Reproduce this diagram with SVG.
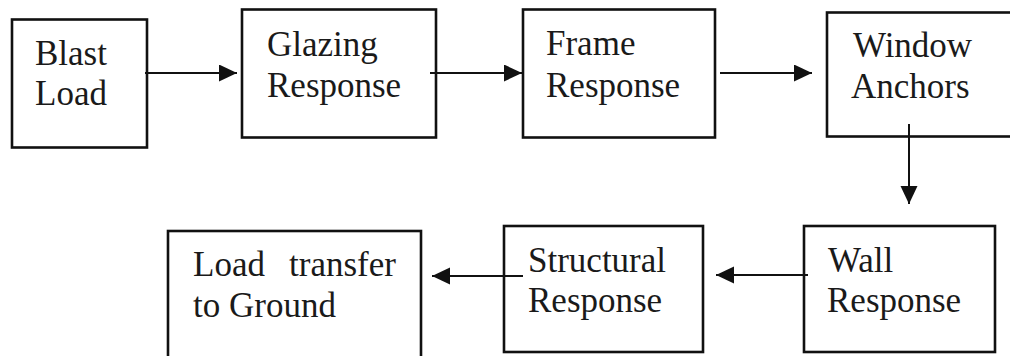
<svg xmlns="http://www.w3.org/2000/svg" width="1010" height="356" viewBox="0 0 1010 356">
  <style>
    .box { fill: #ffffff; stroke: #111111; stroke-width: 2.6; }
    .lbl { font-family: "Liberation Serif", "Times New Roman", serif; font-size: 35px; fill: #1a1a1a; }
    .link { stroke: #111111; stroke-width: 2; fill: none; marker-end: url(#head); }
  </style>
  <defs>
    <marker id="head" markerUnits="userSpaceOnUse" markerWidth="20" markerHeight="18" refX="18" refY="8.5" orient="auto">
      <path d="M0,0 L18,8.5 L0,17 Z" fill="#111111"/>
    </marker>
  </defs>
  <rect width="1010" height="356" fill="#ffffff"/>

  <g id="blast-load">
    <rect class="box" x="12" y="19.5" width="135" height="128"/>
    <text class="lbl" x="35" y="65">Blast</text>
    <text class="lbl" x="35" y="105">Load</text>
  </g>

  <g id="glazing-response">
    <rect class="box" x="242" y="9.5" width="194" height="128"/>
    <text class="lbl" x="267" y="56">Glazing</text>
    <text class="lbl" x="267" y="97">Response</text>
  </g>

  <g id="frame-response">
    <rect class="box" x="523" y="9.5" width="192" height="128"/>
    <text class="lbl" x="546" y="55">Frame</text>
    <text class="lbl" x="546" y="97">Response</text>
  </g>

  <g id="window-anchors">
    <rect class="box" x="827" y="12.5" width="190" height="124"/>
    <text class="lbl" x="853" y="57">Window</text>
    <text class="lbl" x="851" y="98">Anchors</text>
  </g>

  <g id="wall-response">
    <rect class="box" x="804" y="226" width="191" height="126"/>
    <text class="lbl" x="828" y="272">Wall</text>
    <text class="lbl" x="827" y="312">Response</text>
  </g>

  <g id="structural-response">
    <rect class="box" x="504" y="226" width="199" height="126"/>
    <text class="lbl" x="528" y="272">Structural</text>
    <text class="lbl" x="528" y="312">Response</text>
  </g>

  <g id="load-transfer">
    <rect class="box" x="168" y="231" width="253" height="130"/>
    <text class="lbl" x="193" y="276">Load</text>
    <text class="lbl" x="289" y="276">transfer</text>
    <text class="lbl" x="193" y="317">to Ground</text>
  </g>

  <g id="connectors">
    <line class="link" x1="145" y1="73" x2="237" y2="73"/>
    <line class="link" x1="430" y1="73" x2="522" y2="73"/>
    <line class="link" x1="720" y1="73" x2="812" y2="73"/>
    <line class="link" x1="909" y1="124" x2="909" y2="204"/>
    <line class="link" x1="808" y1="275" x2="716" y2="275"/>
    <line class="link" x1="523" y1="276" x2="432" y2="276"/>
  </g>
</svg>
